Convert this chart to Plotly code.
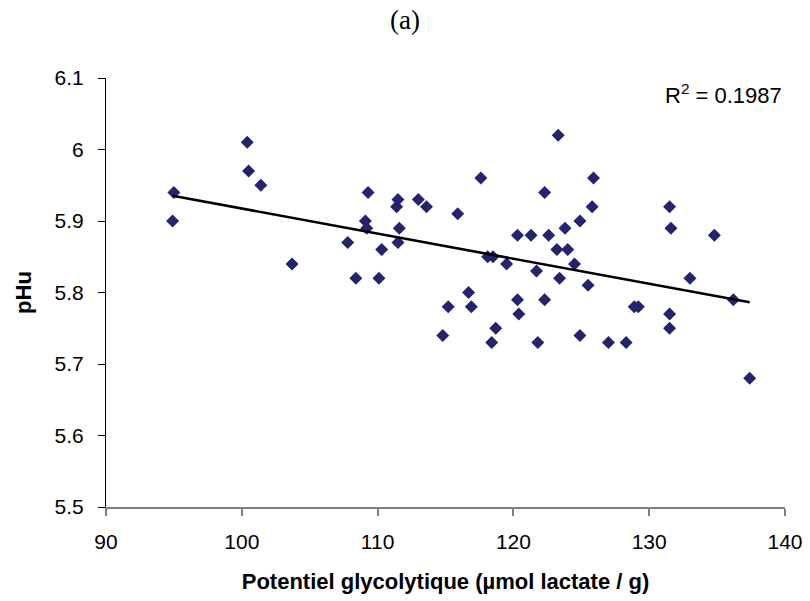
import numpy as np
import plotly.graph_objects as go

glyco = [94.9, 95.0, 100.4, 100.5, 101.4, 103.7, 107.8, 108.4, 109.3, 109.1,
         109.2, 110.1, 110.3, 111.5, 111.4, 111.6, 111.5, 113.0, 113.6, 115.9,
         114.8, 115.2, 116.7, 116.9, 117.6, 118.1, 118.5, 118.4, 118.7, 119.5,
         120.3, 120.3, 120.4, 121.3, 121.7, 121.8, 122.3, 122.3, 122.6, 123.3,
         123.2, 123.4, 123.8, 124.0, 124.5, 124.9, 124.9, 125.9, 125.8, 125.5,
         127.0, 128.3, 128.9, 129.2, 131.5, 131.6, 131.5, 131.5, 133.0, 134.8,
         136.2, 137.4]
phu = [5.90, 5.94, 6.01, 5.97, 5.95, 5.84, 5.87, 5.82, 5.94, 5.90,
       5.89, 5.82, 5.86, 5.93, 5.92, 5.89, 5.87, 5.93, 5.92, 5.91,
       5.74, 5.78, 5.80, 5.78, 5.96, 5.85, 5.85, 5.73, 5.75, 5.84,
       5.88, 5.79, 5.77, 5.88, 5.83, 5.73, 5.94, 5.79, 5.88, 6.02,
       5.86, 5.82, 5.89, 5.86, 5.84, 5.90, 5.74, 5.96, 5.92, 5.81,
       5.73, 5.73, 5.78, 5.78, 5.92, 5.89, 5.77, 5.75, 5.82, 5.88,
       5.79, 5.68]
x_ticks = [90, 100, 110, 120, 130, 140]
y_ticks = [5.5, 5.6, 5.7, 5.8, 5.9, 6.0, 6.1]
y_tick_text = ["5.5", "5.6", "5.7", "5.8", "5.9", "6", "6.1"]
r2_label = "R<sup>2</sup> = 0.1987"

x = np.array(glyco)
y = np.array(phu)
slope, intercept = np.polyfit(x, y, 1)
xl = np.array([x.min(), x.max()])
yl = slope * xl + intercept

fig = go.Figure()
fig.add_trace(go.Scatter(x=x, y=y, mode="markers",
                         marker=dict(symbol="diamond", size=10, color="#24246E"),
                         showlegend=False, hoverinfo="x+y"))
fig.add_trace(go.Scatter(x=xl, y=yl, mode="lines",
                         line=dict(color="black", width=2.6),
                         showlegend=False, hoverinfo="skip"))

fig.update_layout(
    width=810, height=601,
    margin=dict(l=106, r=25, t=78, b=94, autoexpand=False),
    paper_bgcolor="white", plot_bgcolor="white",
    font=dict(family="Arial, Liberation Sans, sans-serif", color="black", size=21),
    title=dict(text="(a)", xref="container", yref="container",
               x=0.5, y=1 - 20 / 601, xanchor="center", yanchor="middle",
               font=dict(family="Liberation Serif, Times New Roman, serif", size=27,
                         color="black")),
    xaxis=dict(range=[90, 140], tickvals=x_ticks, showgrid=False, zeroline=False,
               automargin=False,
               showline=True, linecolor="#808080", linewidth=1.5,
               ticks="outside", tickcolor="#808080", ticklen=7, tickwidth=1.5,
               ticklabelstandoff=8,
               tickfont=dict(size=21),
               title=dict(text="<b>Potentiel glycolytique (µmol lactate / g)</b>",
                          font=dict(size=22), standoff=22)),
    yaxis=dict(range=[5.5, 6.1], tickvals=y_ticks, ticktext=y_tick_text,
               showgrid=False, zeroline=False, automargin=False,
               showline=True, linecolor="black", linewidth=1.2,
               ticks="outside", tickcolor="black", ticklen=7, tickwidth=1.2,
               ticklabelstandoff=10,
               tickfont=dict(size=21),
               title=dict(text="<b>pHu</b>", font=dict(size=22), standoff=16)),
    annotations=[
        dict(text=r2_label, xref="paper", yref="paper", x=1.0, y=1.0,
             xanchor="right", yanchor="middle", xshift=-1, yshift=-16,
             showarrow=False, font=dict(size=22)),
    ],
)

fig.write_html("out.html",
               config={"displayModeBar": False},
               post_script="document.body.style.margin='0';document.body.style.padding='0';")
